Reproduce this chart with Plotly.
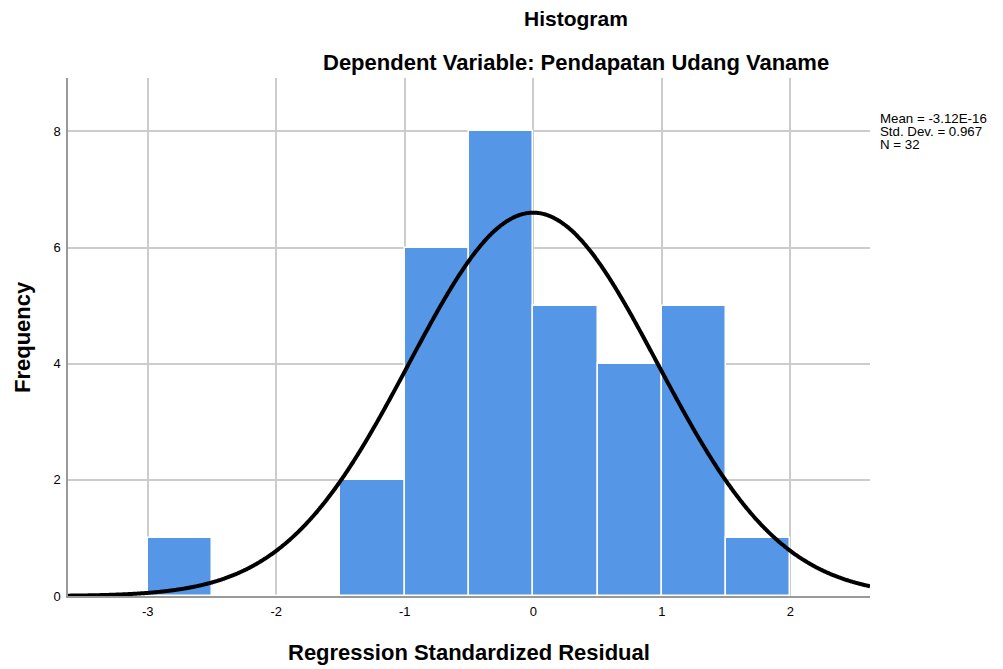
import numpy as np
import plotly.graph_objects as go

# Data
bin_centers = [-2.75, -2.25, -1.75, -1.25, -0.75, -0.25, 0.25, 0.75, 1.25, 1.75]
frequencies = [1, 0, 0, 2, 6, 8, 5, 4, 5, 1]
bin_width = 0.5
mean = -3.12e-16
std_dev = 0.967
n_obs = 32
x_ticks = [-3, -2, -1, 0, 1, 2]
y_ticks = [0, 2, 4, 6, 8]
stats_lines = ["Mean = -3.12E-16", f"Std. Dev. = {std_dev}", f"N = {n_obs}"]

x_range = [-3.62, 2.62]
y_range = [0, 8.92]

# fitted normal curve (from stated mean, sd, N)
xs = np.linspace(x_range[0], x_range[1], 600)
ys = n_obs * bin_width * np.exp(-0.5 * ((xs - mean) / std_dev) ** 2) / (std_dev * np.sqrt(2 * np.pi))

fig = go.Figure()
fig.add_trace(go.Bar(
    x=bin_centers, y=frequencies, width=bin_width,
    marker=dict(color="#5596E6", line=dict(color="white", width=1.5)),
    showlegend=False, hoverinfo="skip",
))
fig.add_trace(go.Scatter(
    x=xs, y=ys, mode="lines", line=dict(color="black", width=4, shape="spline"),
    showlegend=False, hoverinfo="skip",
))

font_family = "Liberation Sans, Arial, sans-serif"
fig.update_layout(
    width=1003, height=669,
    margin=dict(l=68, r=133, t=78, b=73, autoexpand=False),
    paper_bgcolor="white", plot_bgcolor="white",
    font=dict(family=font_family, color="black", size=13),
    bargap=0,
)
fig.update_xaxes(
    range=x_range, tickvals=x_ticks, ticktext=[str(t) for t in x_ticks],
    showgrid=True, gridcolor="#CCCCCC", gridwidth=1.5,
    showline=True, linecolor="#999999", linewidth=1.5,
    zeroline=False, ticks="", ticklen=0, automargin=False,
    tickfont=dict(size=13, family=font_family), ticklabelstandoff=3,
)
fig.update_yaxes(
    range=y_range, tickvals=y_ticks,
    showgrid=True, gridcolor="#CCCCCC", gridwidth=1.5,
    showline=True, linecolor="#999999", linewidth=1.5,
    zeroline=False, ticks="", ticklen=0, automargin=False,
    tickfont=dict(size=13, family=font_family), ticklabelstandoff=3,
)
title_x = (576 - 68) / 802
fig.add_annotation(text="<b>Histogram</b>", xref="paper", yref="paper",
                   x=title_x, y=1, yshift=60, xanchor="center", yanchor="middle",
                   showarrow=False, font=dict(size=21, family=font_family))
fig.add_annotation(text="<b>Dependent Variable: Pendapatan Udang Vaname</b>", xref="paper", yref="paper",
                   x=title_x, y=1, yshift=16, xanchor="center", yanchor="middle",
                   showarrow=False, font=dict(size=22, family=font_family))
fig.add_annotation(text="<b>Regression Standardized Residual</b>", xref="paper", yref="paper",
                   x=0.5, y=0, yshift=-56, xanchor="center", yanchor="middle",
                   showarrow=False, font=dict(size=22, family=font_family))
fig.add_annotation(text="<b>Frequency</b>", xref="paper", yref="paper",
                   x=0, xshift=-46, y=0.5, xanchor="center", yanchor="middle", textangle=-90,
                   showarrow=False, font=dict(size=22, family=font_family))
for i, line in enumerate(stats_lines):
    fig.add_annotation(text=line, xref="paper", yref="paper",
                       x=1, xshift=8, y=1, yshift=-(40 + 13 * i),
                       xanchor="left", yanchor="middle", align="left", showarrow=False,
                       font=dict(size=13.3, family=font_family))

fig.write_html("out.html", config={"displayModeBar": False},
               post_script="document.body.style.margin='0px';document.body.style.overflow='hidden';")
